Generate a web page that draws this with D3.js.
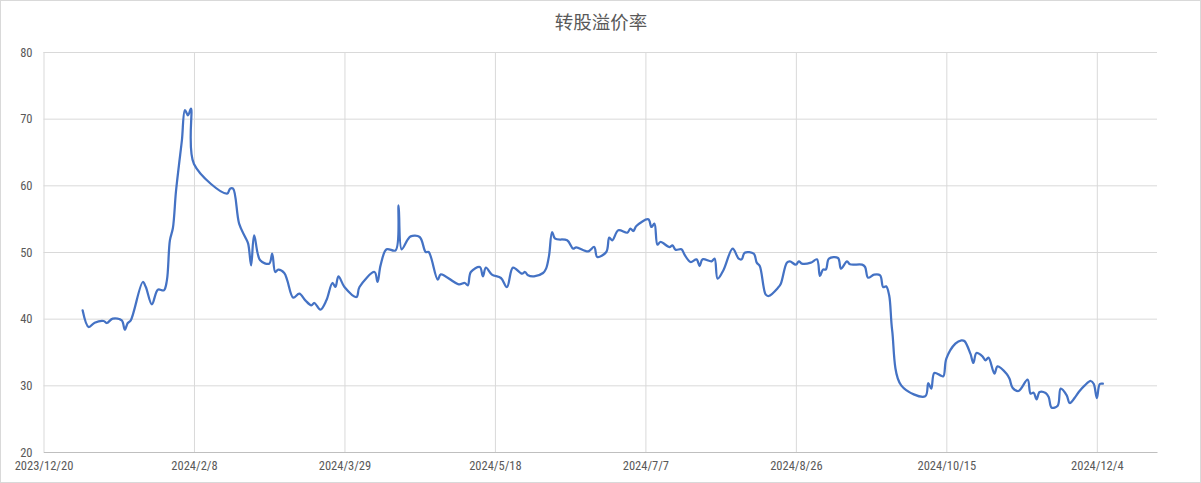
<!DOCTYPE html>
<html>
<head>
<meta charset="utf-8">
<script src="https://cdn.jsdelivr.net/npm/d3@7"></script>
<style>
  html, body { margin: 0; padding: 0; background: #fff; }
  svg { display: block; }
  .axis text { font-family: "Liberation Sans Narrow", "Roboto Condensed", "Liberation Sans", sans-serif; font-size: 12.5px; fill: #595959; }
</style>
</head>
<body>
<div id="chart"></div>
<script>
// 转股溢价率 (%)
const dates = [
  "2024/1/2","2024/1/4","2024/1/6","2024/1/9","2024/1/10","2024/1/12","2024/1/15","2024/1/16","2024/1/17","2024/1/18",
  "2024/1/22","2024/1/23","2024/1/25","2024/1/27","2024/1/29","2024/1/30","2024/1/31","2024/2/1","2024/2/2","2024/2/3",
  "2024/2/4","2024/2/5","2024/2/6","2024/2/7","2024/2/8","2024/2/19","2024/2/20","2024/2/21","2024/2/23","2024/2/25",
  "2024/2/26","2024/2/27","2024/2/28","2024/3/1","2024/3/4","2024/3/5","2024/3/6","2024/3/7","2024/3/9","2024/3/10",
  "2024/3/12","2024/3/14","2024/3/16","2024/3/18","2024/3/19","2024/3/21","2024/3/23","2024/3/25","2024/3/26","2024/3/27",
  "2024/3/29","2024/4/2","2024/4/3","2024/4/8","2024/4/9","2024/4/10","2024/4/12","2024/4/15","2024/4/16","2024/4/17",
  "2024/4/19","2024/4/20","2024/4/23","2024/4/25","2024/4/26","2024/4/29","2024/4/30","2024/5/6","2024/5/8","2024/5/9",
  "2024/5/10","2024/5/13","2024/5/14","2024/5/15","2024/5/17","2024/5/20","2024/5/22","2024/5/24","2024/5/27","2024/5/28",
  "2024/5/29","2024/5/31","2024/6/3","2024/6/4","2024/6/5","2024/6/6","2024/6/7","2024/6/11","2024/6/13","2024/6/14",
  "2024/6/18","2024/6/20","2024/6/21","2024/6/24","2024/6/25","2024/6/26","2024/6/28","2024/7/1","2024/7/2","2024/7/3",
  "2024/7/4","2024/7/8","2024/7/9","2024/7/10","2024/7/11","2024/7/12","2024/7/15","2024/7/16","2024/7/17","2024/7/19",
  "2024/7/20","2024/7/22","2024/7/24","2024/7/25","2024/7/26","2024/7/29","2024/7/30","2024/7/31","2024/8/2","2024/8/5",
  "2024/8/7","2024/8/8","2024/8/9","2024/8/12","2024/8/13","2024/8/14","2024/8/16","2024/8/17","2024/8/20","2024/8/21",
  "2024/8/23","2024/8/24","2024/8/26","2024/8/27","2024/8/28","2024/8/31","2024/9/2","2024/9/3","2024/9/4","2024/9/5",
  "2024/9/6","2024/9/9","2024/9/10","2024/9/12","2024/9/13","2024/9/17","2024/9/18","2024/9/19","2024/9/21","2024/9/23",
  "2024/9/24","2024/9/25","2024/9/26","2024/9/27","2024/9/30","2024/10/8","2024/10/9","2024/10/10","2024/10/11","2024/10/13",
  "2024/10/14","2024/10/15","2024/10/18","2024/10/20","2024/10/21","2024/10/23","2024/10/24","2024/10/25","2024/10/27","2024/10/28",
  "2024/10/29","2024/10/31","2024/11/1","2024/11/4","2024/11/5","2024/11/6","2024/11/8","2024/11/11","2024/11/12","2024/11/13",
  "2024/11/14","2024/11/15","2024/11/17","2024/11/18","2024/11/19","2024/11/21","2024/11/22","2024/11/24","2024/11/25","2024/11/27",
  "2024/11/28","2024/11/30","2024/12/2","2024/12/3","2024/12/4","2024/12/5","2024/12/6"
];
const premium = [
  41.25,38.75,39.4,39.65,39.35,40.0,39.75,38.35,39.35,39.75,
  45.5,44.75,42.15,44.35,44.25,45.75,51.75,53.6,59.0,63.0,
  66.8,71.3,70.5,71.5,63.2,58.75,59.5,59.5,54.25,52.25,
  51.25,48.0,52.5,48.75,48.25,49.75,47.0,47.35,46.85,45.75,
  43.15,43.75,42.75,42.0,42.35,41.35,42.75,45.35,44.75,46.35,
  44.75,43.25,44.75,47.0,45.5,48.0,50.4,50.25,57.0,50.4,
  51.85,52.35,52.25,50.0,50.0,45.85,46.65,45.15,45.35,45.0,
  47.0,47.75,46.35,47.65,46.6,46.1,44.75,47.65,46.75,47.0,
  46.5,46.35,46.85,47.5,49.5,53.0,52.0,51.75,50.5,50.7,
  50.1,50.75,49.25,50.0,52.15,51.75,53.25,52.9,53.5,53.15,
  53.9,54.9,53.75,54.25,51.1,51.5,50.75,51.0,50.35,50.4,
  49.6,48.5,48.9,47.9,48.9,48.6,49.0,46.0,47.35,50.5,
  49.0,48.9,49.9,49.75,48.4,47.9,43.6,43.4,44.6,45.25,
  48.4,48.6,48.1,48.6,48.25,48.4,48.9,46.4,47.35,47.4,
  49.0,49.1,47.5,48.6,48.15,48.1,47.75,46.15,46.6,46.5,
  44.75,44.85,43.5,38.25,30.0,28.35,30.35,29.5,31.85,31.5,
  31.35,34.0,36.25,36.75,36.65,34.75,33.35,34.85,34.35,33.75,
  34.15,31.75,32.85,31.75,31.0,29.65,29.15,30.85,28.75,28.9,
  27.9,29.0,28.85,28.25,26.65,26.95,29.5,28.5,27.35,28.35,
  29.0,30.0,30.65,30.2,28.1,30.2,30.25
];
const yTicks = [20, 30, 40, 50, 60, 70, 80];
const xTickLabels = ["2023/12/20", "2024/2/8", "2024/3/29", "2024/5/18", "2024/7/7", "2024/8/26", "2024/10/15", "2024/12/4"];
const xDomain = ["2023/12/20", "2024/12/24"];
const title = "转股溢价率";

const width = 1201;
const height = 483;
const paddingLeft = 43.5;
const paddingRight = 44;
const paddingTop = 52;
const paddingBottom = 31;
const plotW = width - paddingLeft - paddingRight;
const plotH = height - paddingTop - paddingBottom;

const parseDate = d3.timeParse("%Y/%m/%d");
const dataset = dates.map((d, i) => ({ date: parseDate(d), value: premium[i] }));

const svg = d3.select("#chart")
  .append("svg")
  .attr("width", width)
  .attr("height", height);

// chart border
svg.append("rect")
  .attr("x", 0.5).attr("y", 0.5)
  .attr("width", width - 1).attr("height", height - 1)
  .attr("fill", "#fff")
  .attr("stroke", "#d9d9d9");

svg.append("text")
  .attr("x", 601)
  .attr("y", 29)
  .attr("text-anchor", "middle")
  .style("font-family", "'Noto Sans CJK SC', sans-serif")
  .style("font-size", "18.5px")
  .style("fill", "#595959")
  .text(title);

const scaleX = d3.scaleTime()
  .domain(xDomain.map(parseDate))
  .range([0, plotW]);
const scaleY = d3.scaleLinear()
  .domain([d3.min(yTicks), d3.max(yTicks)])
  .range([plotH, 0]);

const plot = svg.append("g")
  .attr("transform", `translate(${paddingLeft},${paddingTop})`);

const yAxis = d3.axisLeft(scaleY)
  .tickValues(yTicks)
  .tickSize(-plotW)
  .tickPadding(11);

plot.append("g")
  .attr("class", "axis")
  .call(yAxis)
  .call(g => g.select(".domain").remove())
  .call(g => g.selectAll(".tick line").attr("stroke", "#d9d9d9"));

const xAxis = d3.axisBottom(scaleX)
  .tickValues(xTickLabels.map(parseDate))
  .tickFormat(d3.timeFormat("%Y/%-m/%-d"))
  .tickSize(-plotH)
  .tickSizeOuter(0)
  .tickPadding(9);

plot.append("g")
  .attr("class", "axis")
  .attr("transform", `translate(0,${plotH})`)
  .call(xAxis)
  .call(g => g.select(".domain").attr("stroke", "#bfbfbf"))
  .call(g => g.selectAll(".tick line").attr("stroke", "#d9d9d9"));

const line = d3.line()
  .x(d => scaleX(d.date))
  .y(d => scaleY(d.value))
  .curve(d3.curveCatmullRom.alpha(0.5));

plot.append("path")
  .datum(dataset)
  .attr("fill", "none")
  .attr("stroke", "#4472c4")
  .attr("stroke-width", 2.25)
  .attr("stroke-linejoin", "round")
  .attr("stroke-linecap", "round")
  .attr("d", line);
</script>
</body>
</html>
